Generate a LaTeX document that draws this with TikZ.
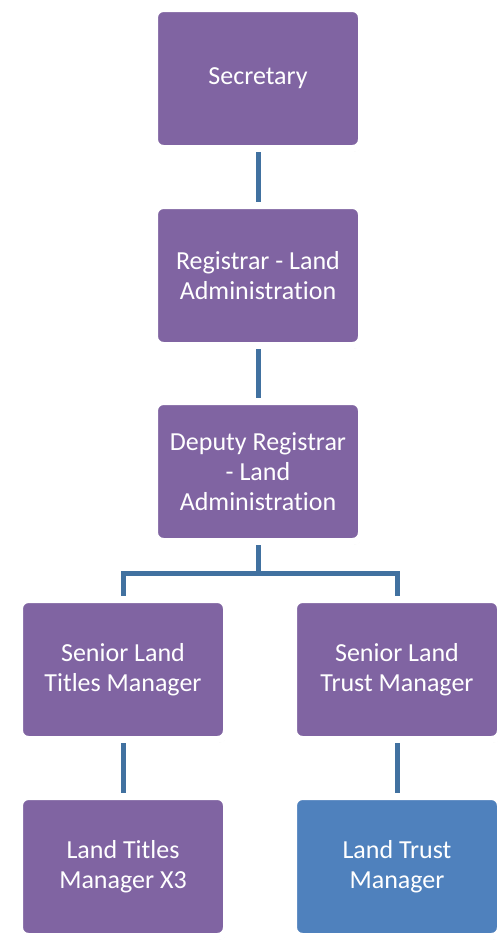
\documentclass[tikz,border=0pt]{standalone}
\usepackage{fontspec}
\setmainfont{Carlito}[Ligatures=NoCommon]
\usepackage{xcolor}
\usepackage{tikz}
\usetikzlibrary{positioning,shadows}
\definecolor{BoxPurple}{RGB}{128,100,162}
\definecolor{BoxBlue}{RGB}{79,129,189}
\definecolor{LinkBlue}{RGB}{65,113,160}

\begin{document}
\begin{tikzpicture}[x=1pt,y=-1pt,
box/.style={rectangle,rounded corners=9pt,fill=BoxPurple,draw=white,line width=7pt,
  minimum width=207pt,minimum height=140pt,text=white,align=center,
  font=\fontsize{26}{30}\selectfont,
  drop shadow={shadow xshift=1pt,shadow yshift=-3pt,opacity=0.3}},
link/.style={draw=LinkBlue,line width=5pt}
]
\useasboundingbox (0,0) rectangle (498,940);
% chain of posts
\node[box] (sec) at (258,78.5) {Secretary};
\node[box] (reg) at (258,275.5) {Registrar - Land\\Administration};
\node[box] (dep) at (258,471.5) {Deputy Registrar\\- Land\\Administration};
% two branches
\node[box] (stl) at (123,669.5) {Senior Land\\Titles Manager};
\node[box] (stm) at (397,669.5) {Senior Land\\Trust Manager};
\node[box] (ltm) at (123,866.5) {Land Titles\\Manager X3};
\node[box,fill=BoxBlue] (ltr) at (397,866.5) {Land Trust\\Manager};
% connectors
\draw[link] (sec) -- (reg);
\draw[link] (reg) -- (dep);
\draw[link] (dep.south) -- ++(0,28) coordinate (fork);
\draw[link] (fork) -| (stl);
\draw[link] (fork) -| (stm);
\draw[link] (stl) -- (ltm);
\draw[link] (stm) -- (ltr);
\end{tikzpicture}
\end{document}
